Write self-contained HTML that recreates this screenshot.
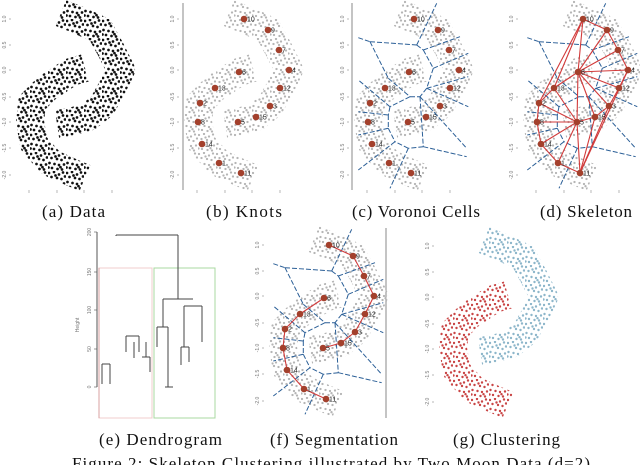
<!DOCTYPE html>
<html><head><meta charset="utf-8">
<style>
html,body{margin:0;padding:0;background:#fff;}
svg{display:block;}
.cap{font-family:"Liberation Serif",serif;font-size:17px;fill:#111;}
.tk{font-family:"Liberation Sans",sans-serif;font-size:5px;fill:#777;}
.kl{font-family:"Liberation Sans",sans-serif;font-size:7px;fill:#222;}
</style></head>
<body>
<svg id="fig" width="640" height="465" viewBox="0 0 640 465" xmlns="http://www.w3.org/2000/svg">
<defs id="defs"></defs>
<text class="cap" x="42" y="217" textLength="63">(a) Data</text>
<text class="cap" x="206" y="217" textLength="76">(b) Knots</text>
<text class="cap" x="352" y="217" textLength="128">(c) Voronoi Cells</text>
<text class="cap" x="540" y="217" textLength="92">(d) Skeleton</text>
<text class="cap" x="99" y="445" textLength="123">(e) Dendrogram</text>
<text class="cap" x="270" y="445" textLength="128">(f) Segmentation</text>
<text class="cap" x="453" y="445" textLength="107">(g) Clustering</text>
<text class="cap" x="72" y="469" textLength="518">Figure 2: Skeleton Clustering illustrated by Two Moon Data (d=2)</text>
<line x1="183" y1="3" x2="183" y2="190" stroke="#888" stroke-width="1"/>
<line x1="352" y1="3" x2="352" y2="190" stroke="#888" stroke-width="1"/>
<line x1="386" y1="228" x2="386" y2="418" stroke="#888" stroke-width="1"/>
</svg>
<script>
// knot ids and positions (panel-b coordinates)
const knotIds = [10,9,7,4,12,3,15,5,6,13,2,8,14,1,11];
const knotX = [244,268,279,289,280,270,256,238,239,215,200,198,202,219,241];
const knotY = [19,30,50,70,88,106,117,122,72,88,103,122,144,163,173];
// moon centerlines (knot ids)
const upperMoon = [10,9,7,4,12,3,15,5];
const lowerMoon = [6,13,2,8,14,1,11];
// skeleton edges
const skelA = [10,9,7,4,12,3,15,10,9,7,4,12,3,15,5,13,10,10,13,2,8,14,1,11,11,11,11,5,5,5,5,5];
const skelB = [9,7,4,12,3,15,5,6,6,6,6,6,6,6,6,6,13,2,2,8,14,1,11,3,4,15,5,2,8,14,1,13];
// segmentation edges
const segA = [10,9,7,4,12,3,15,6,13,2,8,14,1];
const segB = [9,7,4,12,3,15,5,13,2,8,14,1,11];
// voronoi boundary segments (panel-b coordinates)
const vorX1=[188.3,200,200,218.3,246.7,246.7,253.3,253.3,263.3,263.3,256.7,256.7,256.7,250,240,220,218.3,218.3,240,250,253.3,253.3,238.3,238.3,225,218.3,218.3,220];
const vorY1=[37.7,41.7,41.7,78.3,45,45,50,50,68.3,68.3,88.3,88.3,88.3,96.7,96.7,106.7,115,128.3,96.7,96.7,146.7,146.7,148.3,148.3,141.7,128.3,115,106.7];
const vorX2=[200,246.7,218.3,240,266.7,253.3,263.3,290,298.3,256.7,250,298.3,298.3,296.7,220,218.3,218.3,225,250,253.3,296.7,238.3,225,220,188.3,188.3,188.3,188.3];
const vorY2=[41.7,45,78.3,96.7,3.3,50,68.3,36.7,53.3,88.3,96.7,76.7,106.7,148.3,106.7,115,128.3,141.7,96.7,146.7,156.7,148.3,141.7,188.3,170,135,111.7,80];
const yTickLabels = ["1.0","0.5","0.0","-0.5","-1.0","-1.5","-2.0"];
const yTickPos = [19,45,70,97,122,148,175];
const xTickPos = [197,225,252,280];
// dendrogram
const dendTicks=["200","150","100","50","0"];
const dendTickY=[232,272,310,349,387];
const dX1=[116,178,163,163,157,157,168,165,173,184,181,181,189,202,184,102,102,110,126,126,139,134,146,142,150,116];
const dY1=[235,235,299,299,327,327,327,387,387,306,347,347,347,306,306,364,364,364,336,336,336,342,342,357,357,235];
const dX2=[178,178,193,163,168,157,168,173,173,184,189,181,189,202,202,110,102,110,139,126,139,134,146,150,150,116];
const dY2=[235,299,299,327,327,347,387,387,387,347,347,365,362,342,306,364,384,384,336,352,352,358,357,357,372,236];

const NS="http://www.w3.org/2000/svg";
const svg=document.getElementById('fig');
const defs=document.getElementById('defs');
function mk(tag,attrs,parent){const e=document.createElementNS(NS,tag);for(const k in attrs)e.setAttribute(k,attrs[k]);(parent||svg).appendChild(e);return e;}
// texture tile (decorative, irregular dot layout)
const tileDots=[[1,2],[6,1],[11,3.5],[15,1.5],[3.5,6],[9,7],[13.5,8],[1.5,11],[6.5,12],[11,13],[16,12.5],[4,16],[9.5,17],[14,17.5],[0.5,15.5],[17,5.5],[7.5,4.5],[12.5,15.2]];
function pat(id,color,r,keep){const p=mk('pattern',{id:id,patternUnits:'userSpaceOnUse',width:18,height:19},defs);
  tileDots.forEach((d,i)=>{if(i%keep===0||keep===1)mk('circle',{cx:d[0],cy:d[1],r:r,fill:color},p);});}
pat('pk','#111',1.35,1);
pat('pg','#b5b5b5',1.15,1);
pat('pr','#c94545',1.2,1);
pat('pb','#8db6ca',1.2,1);
function kp(id){const i=knotIds.indexOf(id);return [knotX[i],knotY[i]];}
function moonPath(ids,start,end){let p=[start].concat(ids.map(kp)).concat([end]);return 'M'+p.map(q=>q[0]+' '+q[1]).join(' L');}

const panels=[['a',-168,0],['b',0,0],['c',170,0],['d',339,0],['f',85,226],['g',255,227]];
panels.forEach(([nm,dx,dy])=>{
  const g=mk('g',{transform:`translate(${dx},${dy})`});
  
  
  yTickPos.forEach((y,i)=>{
    const t=mk('text',{class:'tk',x:174,y:y,'text-anchor':'middle',transform:`rotate(-90 174 ${y})`},g);
    t.textContent=yTickLabels[i];
    
    
    mk('line',{x1:177,y1:y,x2:179,y2:y,stroke:'#888','stroke-width':0.6},g);
  });
  if(nm!=='f'&&nm!=='g') xTickPos.forEach(x=>{mk('line',{x1:x,y1:190,x2:x,y2:193,stroke:'#888','stroke-width':0.6},g);});
  const up=nm==='a'?'url(#pk)':nm==='g'?'url(#pb)':'url(#pg)';
  const lo=nm==='a'?'url(#pk)':nm==='g'?'url(#pr)':'url(#pg)';
  const m1=mk('path',{d:moonPath(upperMoon,[229,13],[225,124]),fill:'none',stroke:up,'stroke-width':28,'stroke-linejoin':'round'},g);
  
  
  const m2=mk('path',{d:moonPath(lowerMoon,[253,68],[253,178]),fill:'none',stroke:lo,'stroke-width':28,'stroke-linejoin':'round'},g);
  
  
  if(nm==='c'||nm==='d'||nm==='f'){
    vorX1.forEach((x,i)=>{
      const l=mk('line',{x1:x,y1:vorY1[i],x2:vorX2[i],y2:vorY2[i],stroke:'#2b5f97','stroke-width':1,'stroke-dasharray':'5 2'},g);
      
      
    });
  }
  if(nm==='d'||nm==='f'){
    const A=nm==='d'?skelA:segA,B=nm==='d'?skelB:segB;
    A.forEach((a,i)=>{const p=kp(a),q=kp(B[i]);
      const l=mk('line',{x1:p[0],y1:p[1],x2:q[0],y2:q[1],stroke:'#d23a3a','stroke-width':1.1},g);
      
      
    });
  }
  if(nm!=='a'&&nm!=='g'){
    knotIds.forEach((id,i)=>{
      const c=mk('circle',{cx:knotX[i],cy:knotY[i],r:3.3,fill:'#a3402c'},g);
      
      
      const t=mk('text',{class:'kl',x:knotX[i]+3,y:knotY[i]+2.5},g);
      t.textContent=id;
      
      
    });
  }
});
// dendrogram
const dg=mk('g',{});


const r1=mk('rect',{x:99,y:268,width:53,height:150,fill:'none',stroke:'#f0cccc','stroke-width':1},dg);


mk('line',{x1:99,y1:268,x2:99,y2:418,stroke:'#d8a0a0','stroke-width':1},dg);
const r2=mk('rect',{x:154,y:268,width:61,height:150,fill:'none',stroke:'#a8d8a0','stroke-width':1},dg);


mk('line',{x1:97,y1:232,x2:97,y2:387,stroke:'#555','stroke-width':1},dg);
dendTickY.forEach((y,i)=>{
  mk('line',{x1:94,y1:y,x2:97,y2:y,stroke:'#555','stroke-width':0.6},dg);
  const t=mk('text',{class:'tk',x:91,y:y,'text-anchor':'middle',transform:`rotate(-90 91 ${y})`},dg);
  t.textContent=dendTicks[i];
  
  
});
const hl=mk('text',{class:'tk',x:79,y:325,'text-anchor':'middle',transform:'rotate(-90 79 325)'},dg);
hl.textContent='Height';


dX1.forEach((x,i)=>{
  const l=mk('line',{x1:x,y1:dY1[i],x2:dX2[i],y2:dY2[i],stroke:'#444','stroke-width':1},dg);
  
  
});
</script>
</body></html>
